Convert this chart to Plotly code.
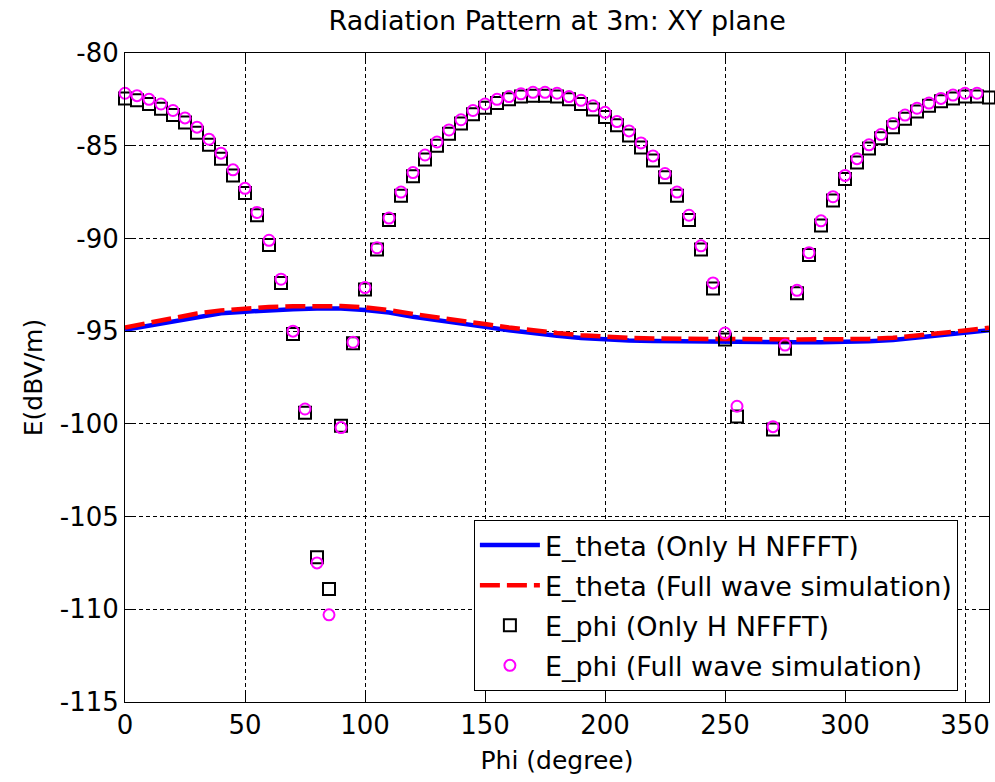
import plotly.graph_objects as go

# ---- data ----
phi_markers = list(range(0, 365, 5))
e_phi_nffft = [
    -82.45, -82.55, -82.75, -83.0, -83.35, -83.75, -84.3, -84.95, -85.7, -86.6,
    -87.55, -88.75, -90.35, -92.4, -95.15, -99.4, -107.2, -108.9, -100.1, -95.65,
    -92.75, -90.6, -89.0, -87.7, -86.65, -85.75, -85.0, -84.35, -83.8, -83.3,
    -82.95, -82.7, -82.5, -82.35, -82.3, -82.3, -82.35, -82.5, -82.75, -83.05,
    -83.45, -83.9, -84.45, -85.1, -85.8, -86.7, -87.7, -89.0, -90.6, -92.7,
    -95.45, -99.6, None, None, -100.3, -95.95, -92.96, -90.9, -89.3, -87.95,
    -86.8, -85.9, -85.15, -84.6, -84.0, -83.55, -83.15, -82.85, -82.6, -82.45,
    -82.35, -82.35, -82.4,
]
e_phi_full = [
    -82.17, -82.3, -82.5, -82.75, -83.1, -83.5, -84.0, -84.65, -85.4, -86.3,
    -87.3, -88.6, -90.1, -92.2, -95.0, -99.2, -107.5, -110.3, -100.2, -95.6,
    -92.65, -90.5, -88.9, -87.5, -86.45, -85.5, -84.8, -84.15, -83.6, -83.1,
    -82.75, -82.5, -82.35, -82.2, -82.12, -82.12, -82.17, -82.35, -82.55, -82.85,
    -83.2, -83.7, -84.2, -84.85, -85.55, -86.5, -87.5, -88.75, -90.4, -92.4,
    -95.1, -99.05, None, None, -100.15, -95.75, -92.8, -90.77, -89.05, -87.75,
    -86.6, -85.7, -84.95, -84.4, -83.8, -83.35, -82.98, -82.7, -82.45, -82.27,
    -82.17, -82.17, None,
]
phi_line = list(range(0, 370, 10))
e_theta_nffft = [
    -94.92, -94.7, -94.45, -94.2, -94.04, -93.95, -93.87, -93.82, -93.78, -93.78,
    -93.86, -94.0, -94.22, -94.42, -94.6, -94.77, -94.95, -95.12, -95.25, -95.37,
    -95.45, -95.5, -95.53, -95.55, -95.55, -95.55, -95.57, -95.58, -95.6, -95.6,
    -95.6, -95.55, -95.48, -95.35, -95.2, -95.08, -94.95,
]
e_theta_full = [
    -94.8, -94.55, -94.3, -94.05, -93.88, -93.78, -93.7, -93.66, -93.64, -93.65,
    -93.72, -93.86, -94.07, -94.27, -94.45, -94.62, -94.8, -94.98, -95.1, -95.22,
    -95.3, -95.36, -95.4, -95.42, -95.42, -95.4, -95.42, -95.44, -95.45, -95.46,
    -95.45, -95.42, -95.36, -95.25, -95.1, -94.97, -94.82,
]
x_ticks = [0, 50, 100, 150, 200, 250, 300, 350]
y_ticks = [-115, -110, -105, -100, -95, -90, -85, -80]
y_tick_labels = ["-115", "-110", "-105", "-100", "-95", "-90", "-85", "-80"]

FONT = "DejaVu Sans"

fig = go.Figure()
fig.add_trace(go.Scatter(
    x=phi_line, y=e_theta_nffft, mode="lines", name="E_theta (Only H NFFFT)",
    line=dict(color="#0000ff", width=4.5), legendgroup="a"))
fig.add_trace(go.Scatter(
    x=phi_line, y=e_theta_full, mode="lines", name="E_theta (Full wave simulation)",
    line=dict(color="#ff0000", width=4.5, dash="20px,7px"), legendgroup="b"))
fig.add_trace(go.Scatter(
    x=phi_markers, y=e_phi_nffft, mode="markers", name="E_phi (Only H NFFFT)",
    marker=dict(symbol="square-open", size=12, color="black", line=dict(width=2, color="black")),
    cliponaxis=False, legendgroup="c"))
fig.add_trace(go.Scatter(
    x=phi_markers, y=e_phi_full, mode="markers", name="E_phi (Full wave simulation)",
    marker=dict(symbol="circle-open", size=11, color="#ff00ff", line=dict(width=2, color="#ff00ff")),
    cliponaxis=False, legendgroup="d"))

axis_common = dict(
    showline=True, linecolor="black", linewidth=1, mirror="ticks",
    ticks="inside", ticklen=8, tickcolor="black", tickwidth=1,
    showgrid=True, gridcolor="black", gridwidth=1, griddash="4px,3px",
    zeroline=False, tickfont=dict(family=FONT, size=26, color="black"),
)

fig.update_layout(
    width=995, height=782,
    margin=dict(l=125, r=6, t=53, b=80),
    paper_bgcolor="white", plot_bgcolor="white",
    font=dict(family=FONT, color="black"),
    title=dict(text="Radiation Pattern at 3m: XY plane", x=0.56, xanchor="center",
               y=0.974, yanchor="middle", font=dict(family=FONT, size=27, color="black")),
    xaxis=dict(range=[0, 360], tickvals=x_ticks,
               title=dict(text="Phi (degree)", font=dict(family=FONT, size=25), standoff=12),
               **axis_common),
    yaxis=dict(range=[-115, -80], tickvals=y_ticks, ticktext=y_tick_labels,
               title=dict(text="E(dBV/m)", font=dict(family=FONT, size=25), standoff=10),
               **axis_common),
    legend=dict(x=0.964, xanchor="right", y=0.2804, yanchor="top",
                bgcolor="white", bordercolor="black", borderwidth=1,
                font=dict(family=FONT, size=27, color="black"),
                itemwidth=60, tracegroupgap=2),
    showlegend=True,
)

fig.write_html("out.html", config={"displayModeBar": False},
               post_script="document.body.style.margin='0';document.body.style.overflow='hidden';")
